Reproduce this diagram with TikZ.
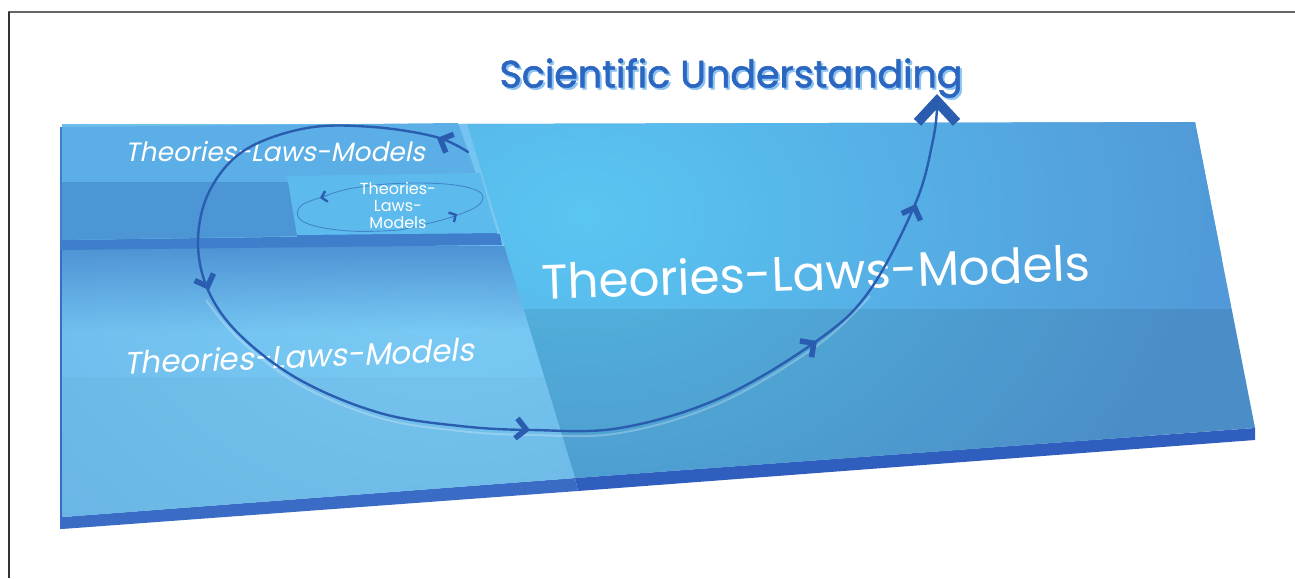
\documentclass[tikz,border=0pt]{standalone}
\usepackage{fontspec}
\newfontfamily\labfont{Poppins}
\newfontfamily\labitfont[FakeSlant=0.2]{Poppins}
\newfontfamily\titlefont[FakeBold=1.6]{Poppins}
\usetikzlibrary{arrows.meta,fadings}
\definecolor{pthree}{HTML}{4A8DD1}
\definecolor{pthreeup}{HTML}{5199D8}
\definecolor{pthreelight}{HTML}{5AC6F2}
\definecolor{pthreeedge}{HTML}{2F5EBE}
\definecolor{ptwo}{HTML}{6AB7E9}
\definecolor{ptwolight}{HTML}{7ACBF5}
\definecolor{ptwodark}{HTML}{4E93D4}
\definecolor{ptwoedge}{HTML}{3A6CC6}
\definecolor{pone}{HTML}{5BAFE6}
\definecolor{ponedark}{HTML}{4C96D6}
\definecolor{poneedge}{HTML}{3F7ECB}
\definecolor{pzero}{HTML}{5DBAED}
\definecolor{curveblue}{HTML}{2A5DB0}
\definecolor{titleblue}{HTML}{2B66C0}
\definecolor{titlelight}{HTML}{8CC3F0}
\tikzset{
  frameline/.style={line width=1.8pt},
  loopline/.style={curveblue, line width=2.4pt, line cap=round},
  smallloop/.style={curveblue, line width=0.9pt, opacity=0.55},
  midtip/.style={-{Straight Barb[length=10pt,width=20pt,line width=5.5pt]}, curveblue, line width=0.1pt},
  smalltip/.style={-{Straight Barb[length=5pt,width=11pt,line width=2.4pt]}, curveblue, line width=0.1pt},
  bigtip/.style={-{Straight Barb[length=21pt,width=39pt,line width=10pt]}, curveblue, line width=0.1pt},
  label/.style={text=white, inner sep=0pt, align=center},
}
\begin{document}
\begin{tikzpicture}[x=1pt,y=-1pt]
\useasboundingbox (0,0) rectangle (1295,578);
\fill[white] (0,0) rectangle (1295,578);
% frame
\draw[frameline, black!60] (8,12) -- (1295,12);
\draw[frameline, black!80] (9,12) -- (9,578);

% ---------- right panel (P3)
\fill[pthreeedge] (575,478) -- (1255,428) -- (1255,440) -- (578,491) -- cycle;
\begin{scope}
  \clip (462,124) -- (1195,122) -- (1255,428) -- (575,478) -- cycle;
  \fill[pthreeup] (400,100) rectangle (1300,500);
  \shade[inner color=pthreelight, outer color=pthreeup] (585,215) ellipse (640 and 460);
  \fill[black, opacity=0.08] (400,309) rectangle (1300,500);
\end{scope}

% ---------- left middle panel (P2)
\fill[ptwoedge] (62,517) -- (575,478) -- (578,491) -- (62,529) -- cycle;
\begin{scope}
  \clip (62,124) -- (467,124) -- (575,478) -- (62,517) -- cycle;
  \fill[ptwo] (40,100) rectangle (600,540);
  \shade[inner color=ptwolight, outer color=ptwo] (440,285) ellipse (600 and 420);
  \fill[ptwodark, path fading=south] (40,246) rectangle (600,330);
  \fill[black, opacity=0.025] (40,377) rectangle (600,540);
\end{scope}
\draw[ptwoedge, line width=2.5pt] (61,245) -- (61,529);

% ---------- top left panel (P1)
\fill[poneedge] (62,240) -- (500,234) -- (502,245) -- (62,250) -- cycle;
\begin{scope}
  \clip (62,127) -- (458,123) -- (497,233) -- (62,240) -- cycle;
  \fill[pone] (40,100) rectangle (520,260);
  \fill[ponedark] (40,182) rectangle (520,260);
\end{scope}
\draw[poneedge, line width=2.5pt] (61,127) -- (61,250);

% ---------- smallest panel (P0)
\fill[poneedge] (297,235) -- (497,233) -- (499,241) -- (297,242) -- cycle;
\fill[pzero] (287,176) -- (480,173) -- (497,233) -- (297,235) -- cycle;

% small loop on P0
\draw[smallloop] plot[smooth, tension=0.7] coordinates {(400,230) (455,216) (482,201) (470,188) (420,183) (360,187) (322,197) (299,208) (306,223) (350,231) (400,230)};
\draw[smalltip] (328,196) -- (320,198);
\draw[smalltip] (450,218) -- (457,214);

% ---------- texts
\node[label, font=\fontsize{38}{38}\selectfont\titlefont, text=titlelight] at (733,80) {Scientific Understanding};
\node[label, font=\fontsize{38}{38}\selectfont\titlefont, text=titleblue] (title) at (731,78) {Scientific Understanding};
\node[label, font=\fontsize{26.5}{26.5}\selectfont\labitfont] (tlmone) at (275,152) {Theories-Laws-Models};
\node[label, font=\fontsize{16}{17}\selectfont\labfont] (tlmzero) at (398,205) {Theories-\\Laws-\\Models};
\node[label, font=\fontsize{31}{31}\selectfont\labitfont, rotate=2.2] (tlmtwo) at (299,356) {Theories-Laws-Models};
\node[label, font=\fontsize{48.5}{48.5}\selectfont\labfont, rotate=2] (tlmthree) at (816,272) {Theories-Laws-Models};

% ---------- big spiral
\draw[white, opacity=0.25, line width=2pt] plot[smooth, tension=0.6] coordinates {(206,300) (240,340) (300,385) (380,418) (460,431) (532,435) (620,433) (720,403) (818,345) (870,296)};
\draw[loopline] plot[smooth, tension=0.6] coordinates {(468,152) (436,137) (373,127) (307,128) (245,150) (210,190) (198,240) (208,290) (240,335) (300,380) (380,413) (460,426) (532,430) (620,428) (720,398) (818,340) (870,290) (916,202) (933,140) (937,108)};
\draw[midtip] (444,141) -- (437,138);
\draw[midtip] (206,282) -- (209,290);
\draw[midtip] (522,429) -- (530,430);
\draw[midtip] (810,346) -- (817,341);
\draw[midtip] (913,212) -- (916,204);
\draw[bigtip] (937,110) -- (937,94);
\end{tikzpicture}
\end{document}
